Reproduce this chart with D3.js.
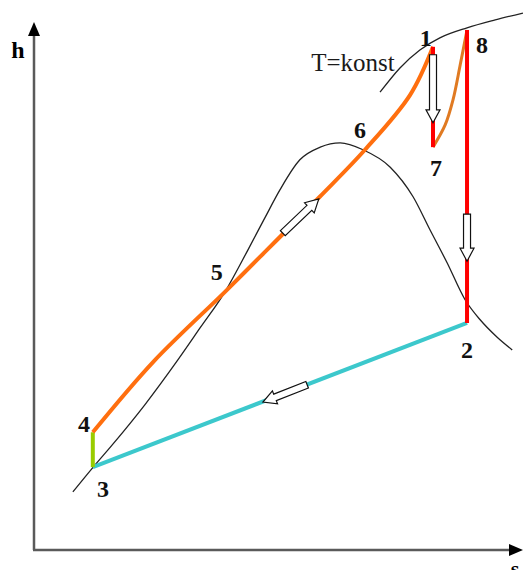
<!DOCTYPE html>
<html>
<head>
<meta charset="utf-8">
<script src="https://cdn.jsdelivr.net/npm/d3@7"></script>
<style>
  body { margin: 0; background: #fff; }
  text { font-family: "Liberation Serif", "DejaVu Serif", serif; }
</style>
</head>
<body>
<svg width="523" height="570"></svg>
<script>
// state points in (s, h) units
const stateNames = ['1', '2', '3', '4', '7', '8'];
const stateS = [82.1, 89.1, 12.1, 12.1, 82.1, 89.1];
const stateH = [95.3, 43.0, 15.7, 22.3, 76.3, 98.5];

// orange heating curve 4 -> 5 -> 6 -> 1
const heatS = [12.1, 24.5, 39.3, 46.5, 58.8, 68.1, 77.4, 82.1];
const heatH = [22.3, 35.6, 48.9, 55.5, 66.9, 75.8, 86.2, 95.3];

// reheat curve 7 -> 8
const reheatS = [82.1, 84.6, 86.2, 87.7, 89.1];
const reheatH = [76.3, 80.5, 85.2, 91.9, 98.5];

// saturation dome
const domeS = [8.0, 12.1, 16.1, 22.8, 29.6, 34.2, 39.3, 44.0, 47.5, 50.6, 54.7, 58.9, 63.0, 67.7, 73.3, 78.0, 81.5, 85.0, 88.7, 91.8, 95.3, 98.4];
const domeH = [11.0, 15.6, 19.9, 27.5, 36.0, 42.1, 48.9, 56.8, 62.9, 68.2, 73.9, 76.3, 77.1, 75.8, 72.5, 66.9, 60.6, 54.4, 47.4, 43.6, 40.3, 37.9];

// isotherm T = konst
const isoS = [71.2, 75.3, 79.4, 83.5, 89.1, 94.9, 100.6];
const isoH = [86.7, 91.3, 94.7, 97.0, 98.9, 100.4, 101.7];

// direction arrows: tail (s,h) -> tip (s,h)
const arrowFromS = [82.1, 89.1, 51.2, 56.2];
const arrowFromH = [93.8, 63.6, 60.0, 31.3];
const arrowToS = [82.1, 89.1, 58.6, 47.1];
const arrowToH = [80.9, 54.7, 66.5, 28.0];

// labels: text, (s,h) anchor
const labelText = ['1', '8', '7', '6', '5', '4', '3', '2'];
const labelS = [80.6, 92.2, 82.7, 67.1, 37.6, 10.3, 14.2, 89.1];
const labelH = [97.0, 95.6, 72.3, 79.5, 52.6, 23.8, 11.6, 37.9];

const svg = d3.select('svg');
const x = d3.scaleLinear().domain([0, 100]).range([34, 520]);
const y = d3.scaleLinear().domain([0, 100]).range([550, 22]);

const pt = (sArr, hArr) => sArr.map((s, i) => [x(s), y(hArr[i])]);
const P = {};
stateNames.forEach((n, i) => { P[n] = [x(stateS[i]), y(stateH[i])]; });

const smooth = d3.line().curve(d3.curveMonotoneX);
const spline = d3.line().curve(d3.curveCatmullRom.alpha(0.5));
const straight = d3.line();

// axes
const axisColor = '#5a5a5a';
svg.append('line')
  .attr('x1', x(0)).attr('y1', y(0))
  .attr('x2', x(0)).attr('y2', 34)
  .attr('stroke', axisColor).attr('stroke-width', 2.5);
svg.append('line')
  .attr('x1', x(0) - 1).attr('y1', y(0))
  .attr('x2', 510).attr('y2', y(0))
  .attr('stroke', axisColor).attr('stroke-width', 2.5);
svg.append('path')
  .attr('d', `M${x(0)},22 L${x(0) - 6},36 L${x(0) + 6},36 Z`)
  .attr('fill', '#000');
svg.append('path')
  .attr('d', `M523,${y(0)} L509,${y(0) - 6} L509,${y(0) + 6} Z`)
  .attr('fill', '#000');

svg.append('text').attr('x', 18).attr('y', 50)
  .attr('text-anchor', 'middle').attr('dominant-baseline', 'central')
  .attr('font-weight', 'bold').attr('font-size', 24).text('h');
svg.append('text').attr('x', 515).attr('y', 568)
  .attr('text-anchor', 'middle').attr('dominant-baseline', 'central')
  .attr('font-weight', 'bold').attr('font-size', 22).text('s');

// dome and isotherm
svg.append('path').attr('d', smooth(pt(domeS, domeH)))
  .attr('fill', 'none').attr('stroke', '#222').attr('stroke-width', 1.3);
svg.append('path').attr('d', smooth(pt(isoS, isoH)))
  .attr('fill', 'none').attr('stroke', '#222').attr('stroke-width', 1.3);

svg.append('text').attr('x', 353).attr('y', 62)
  .attr('text-anchor', 'middle').attr('dominant-baseline', 'central')
  .attr('font-size', 25).attr('fill', '#1a1a1a').text('T=konst');

// process lines
svg.append('path').attr('d', straight([P['3'], P['2']]))
  .attr('fill', 'none').attr('stroke', '#3cc8cc').attr('stroke-width', 4);
svg.append('path').attr('d', straight([P['3'], P['4']]))
  .attr('fill', 'none').attr('stroke', '#99cc00').attr('stroke-width', 4);
svg.append('path').attr('d', spline(pt(heatS, heatH)))
  .attr('fill', 'none').attr('stroke', '#ff6f0f').attr('stroke-width', 4);
svg.append('path').attr('d', spline(pt(reheatS, reheatH)))
  .attr('fill', 'none').attr('stroke', '#e07a22').attr('stroke-width', 3);
svg.append('path').attr('d', straight([P['1'], P['7']]))
  .attr('fill', 'none').attr('stroke', '#ff0000').attr('stroke-width', 4);
svg.append('path').attr('d', straight([P['8'], P['2']]))
  .attr('fill', 'none').attr('stroke', '#ff0000').attr('stroke-width', 4);

// hollow block arrows
arrowFromS.forEach((s, i) => {
  const x0 = x(s), y0 = y(arrowFromH[i]);
  const x1 = x(arrowToS[i]), y1 = y(arrowToH[i]);
  const len = Math.hypot(x1 - x0, y1 - y0);
  const ang = Math.atan2(y1 - y0, x1 - x0) * 180 / Math.PI;
  const w = 3.5, hw = 7, hl = 13;
  const d = `M0,${-w} L${len - hl},${-w} L${len - hl},${-hw} L${len},0 L${len - hl},${hw} L${len - hl},${w} L0,${w} Z`;
  svg.append('path')
    .attr('d', d)
    .attr('transform', `translate(${x0},${y0}) rotate(${ang})`)
    .attr('fill', '#fff').attr('stroke', '#111').attr('stroke-width', 1.2);
});

// point labels
svg.selectAll('.lbl')
  .data(labelText)
  .enter()
  .append('text')
  .attr('class', 'lbl')
  .attr('x', (d, i) => x(labelS[i]))
  .attr('y', (d, i) => y(labelH[i]))
  .attr('text-anchor', 'middle')
  .attr('dominant-baseline', 'central')
  .attr('font-weight', 'bold')
  .attr('font-size', 24)
  .attr('fill', '#111')
  .text(d => d);
</script>
</body>
</html>
